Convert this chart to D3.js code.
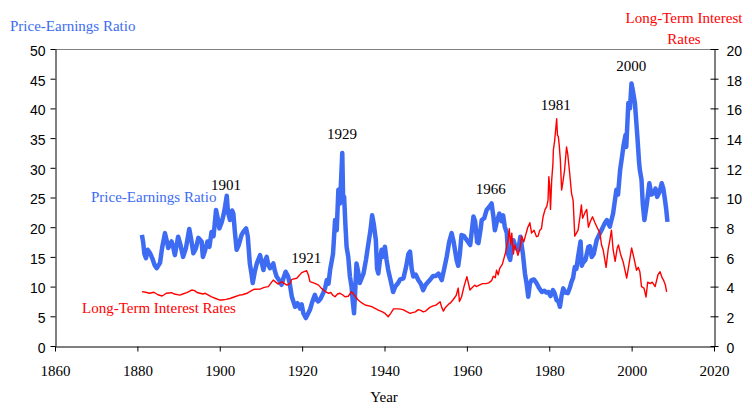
<!DOCTYPE html>
<html><head><meta charset="utf-8">
<script src="https://cdn.jsdelivr.net/npm/d3@7"></script>
<style>
html,body{margin:0;padding:0;background:#fff;}
svg{display:block;}
</style></head>
<body>
<svg id="chart" width="752" height="408"></svg>
<script>
// ---- DATA ----
const xTicks = [1860,1880,1900,1920,1940,1960,1980,2000,2020];
const leftTicks = [0,5,10,15,20,25,30,35,40,45,50];
const rightTicks = [0,2,4,6,8,10,12,14,16,18,20];

const peYears = [1881.1,1881.4,1881.7,1882.1,1882.5,1883.1,1883.6,1884.2,1884.7,1885.5,1886.0,1886.7,1887.1,1887.5,1888.3,1888.7,1889.1,1889.9,1890.4,1891.1,1891.8,1892.6,1893.0,1893.6,1894.2,1894.8,1895.6,1895.9,1896.4,1897.0,1897.5,1898.0,1898.5,1899.1,1899.5,1899.9,1900.5,1900.9,1901.3,1901.7,1902.0,1902.5,1903.0,1903.3,1903.7,1904.1,1904.6,1905.3,1905.8,1906.4,1906.8,1907.3,1907.7,1908.0,1908.5,1909.0,1909.8,1910.2,1910.6,1911.0,1911.4,1911.8,1912.2,1913.0,1913.4,1913.8,1914.5,1915.0,1915.5,1916.0,1916.6,1917.0,1917.5,1918.3,1918.9,1919.5,1919.9,1920.3,1920.9,1921.4,1921.9,1922.5,1923.1,1923.5,1923.9,1924.5,1925.1,1925.6,1926.0,1926.4,1926.8,1927.5,1928.0,1928.4,1928.8,1929.2,1929.5,1929.75,1929.95,1930.2,1930.5,1930.8,1931.2,1931.6,1932.0,1932.3,1932.6,1932.9,1933.2,1933.6,1934.0,1934.5,1934.9,1935.5,1936.1,1936.6,1937.0,1937.4,1937.9,1938.2,1938.5,1938.9,1939.3,1939.6,1940.1,1940.5,1940.9,1941.5,1942.1,1942.6,1943.3,1943.8,1944.6,1945.3,1945.8,1946.2,1946.6,1947.0,1947.6,1948.2,1948.8,1949.4,1950.0,1951.0,1951.8,1952.5,1953.1,1953.9,1954.5,1955.1,1955.7,1956.3,1956.8,1957.5,1957.9,1958.3,1958.7,1959.3,1960.0,1960.8,1961.6,1962.0,1962.5,1962.8,1963.3,1963.6,1964.2,1964.8,1965.5,1966.0,1966.4,1966.8,1967.3,1967.9,1968.4,1968.8,1969.2,1969.7,1970.0,1970.5,1970.9,1971.3,1971.9,1972.5,1973.0,1973.6,1974.1,1974.5,1974.9,1975.3,1975.7,1976.3,1976.9,1977.5,1978.2,1978.8,1979.3,1979.8,1980.3,1980.9,1981.3,1981.8,1982.2,1982.6,1983.0,1983.4,1983.9,1984.5,1985.0,1985.4,1985.8,1986.2,1986.6,1987.0,1987.6,1987.9,1988.1,1988.8,1989.5,1989.9,1990.3,1990.8,1991.5,1992.3,1992.9,1993.5,1994.0,1994.7,1995.5,1996.3,1996.7,1997.2,1997.7,1998.0,1998.5,1998.7,1999.0,1999.2,1999.6,1999.97,2000.3,2000.8,2001.4,2001.8,2002.0,2002.4,2002.7,2003.1,2003.7,2004.3,2004.8,2005.3,2005.8,2006.2,2006.8,2007.3,2007.7,2008.1,2008.4,2008.7];
const peValues = [18.7,17.5,15.5,14.8,16.2,15.6,14.8,13.6,13.1,14.0,16.5,19.0,17.8,16.5,17.6,16.6,15.3,18.4,17.2,15.0,16.5,19.7,18.2,15.6,16.4,18.2,17.6,15.0,16.0,17.6,16.7,19.2,18.5,22.9,21.5,19.8,20.9,22.0,23.5,25.3,22.5,21.2,22.8,22.3,19.0,16.2,17.0,18.7,19.3,19.8,18.5,13.9,12.2,10.6,12.5,13.9,15.3,14.0,12.8,14.3,15.0,13.6,13.1,13.9,12.6,11.7,11.0,10.3,11.5,12.5,11.7,10.5,8.3,6.6,7.2,6.3,7.0,5.5,4.7,5.4,6.1,7.5,8.6,7.8,7.5,8.0,8.9,9.8,11.1,10.5,12.8,15.5,21.2,19.5,26.3,24.0,28.5,32.5,25.0,25.1,20.5,16.7,15.0,11.7,10.0,7.5,5.5,9.5,13.9,12.5,10.6,11.5,12.2,14.5,17.3,19.5,22.0,20.5,17.8,13.0,12.2,14.5,16.2,15.0,16.7,14.5,12.8,11.0,9.1,10.0,10.6,11.2,11.4,13.5,15.5,15.9,13.0,11.7,12.0,11.1,10.5,9.4,10.3,11.1,11.8,11.8,12.2,11.1,13.0,15.0,17.5,19.0,17.5,14.5,13.5,15.5,18.7,18.5,17.8,17.0,21.8,21.0,17.5,17.3,19.5,21.2,21.5,22.9,23.5,24.0,22.0,19.5,21.0,22.3,21.0,22.0,20.1,19.0,15.5,14.5,16.5,17.8,16.5,16.2,18.4,15.5,12.2,10.5,8.3,10.5,11.1,11.2,10.6,9.8,9.1,9.3,9.0,9.1,8.4,9.4,8.9,7.7,7.5,6.6,8.5,9.7,9.0,8.9,9.8,10.8,11.5,13.3,13.0,15.0,17.6,13.5,13.9,14.5,16.7,16.8,15.0,15.5,17.8,19.0,19.8,20.7,21.2,20.1,22.3,26.3,25.5,29.6,32.0,33.6,35.5,33.5,38.0,40.9,40.0,44.2,43.0,40.9,35.2,31.0,29.6,28.0,24.0,21.2,24.0,27.4,25.5,25.7,26.5,25.1,26.0,27.4,26.5,24.6,23.0,20.9];

const rateYears = [1881.1,1882,1883,1884,1885,1886.0,1886.5,1887,1888.3,1889,1890.3,1891,1892,1893.2,1893.9,1894.5,1895.2,1895.9,1896.5,1897.9,1899,1899.9,1900.5,1901.5,1902.5,1903.5,1904.8,1905.5,1906.6,1907.5,1908.3,1909.9,1910.8,1911.8,1912.6,1913.0,1913.6,1914.2,1915.0,1916.3,1917.0,1917.5,1918.7,1919.9,1921.1,1921.5,1921.9,1923.1,1924.0,1924.7,1925.5,1926.4,1927.0,1927.5,1928.0,1928.6,1929.2,1929.8,1930.4,1931.2,1932.0,1932.6,1933.6,1934.5,1935.3,1936.9,1938.5,1939.5,1940.1,1940.9,1941.5,1942.2,1943.5,1944.5,1945.5,1946.2,1946.8,1947.5,1948.2,1948.8,1949.4,1950.0,1951.0,1951.8,1952.5,1953.5,1953.9,1954.3,1954.8,1955.5,1956.0,1956.6,1957.4,1957.9,1958.2,1958.7,1959.3,1960.0,1960.4,1960.75,1961.2,1961.9,1962.3,1963.0,1963.8,1964.6,1965.3,1966.0,1966.4,1966.9,1967.2,1967.6,1968.0,1968.6,1969.0,1969.4,1969.8,1970.0,1970.3,1970.6,1970.9,1971.3,1971.6,1971.9,1972.4,1972.9,1973.3,1973.8,1974.3,1974.8,1975.3,1975.7,1976.3,1976.9,1977.3,1977.7,1978.1,1978.5,1979.0,1979.4,1979.7,1979.9,1980.1,1980.3,1980.6,1980.9,1981.0,1981.3,1981.6,1981.8,1982.0,1982.2,1982.4,1982.7,1983.0,1983.3,1983.7,1984.2,1984.5,1984.9,1985.4,1985.8,1986.2,1986.6,1987.0,1987.5,1987.8,1988.1,1988.7,1989.1,1989.5,1990.0,1990.5,1991.1,1991.6,1992.3,1992.7,1993.1,1993.8,1994.3,1994.7,1995.1,1995.5,1996.0,1996.5,1996.8,1997.3,1998.0,1998.8,1999.3,2000.0,2000.5,2001.2,2001.6,2002.0,2002.4,2003.0,2003.5,2003.9,2004.5,2005.0,2005.7,2006.4,2006.9,2007.4,2007.8,2008.2,2008.5];
const rateValues = [3.66,3.62,3.55,3.62,3.45,3.37,3.45,3.55,3.59,3.5,3.43,3.5,3.6,3.77,3.73,3.6,3.55,3.5,3.55,3.32,3.2,3.1,3.1,3.14,3.2,3.3,3.43,3.45,3.55,3.7,3.82,3.84,3.95,4.0,4.3,4.44,4.3,4.17,4.33,4.1,4.2,4.49,4.56,4.94,5.07,4.8,4.33,4.22,4.1,3.88,3.7,3.55,3.6,3.4,3.32,3.5,3.55,3.45,3.32,3.35,3.66,3.45,3.1,2.9,2.76,2.65,2.42,2.3,2.2,1.97,2.2,2.5,2.5,2.45,2.3,2.2,2.25,2.3,2.45,2.4,2.3,2.35,2.6,2.7,2.75,2.98,2.6,2.35,2.6,2.8,2.9,3.1,3.4,3.9,3.0,3.3,4.0,4.67,4.2,3.77,3.9,4.1,4.0,4.1,4.2,4.2,4.25,4.4,4.7,4.6,5.1,4.8,5.25,5.5,5.9,6.3,6.9,7.1,7.9,6.8,7.6,6.2,6.8,6.6,6.1,6.6,7.4,7.0,7.5,8.0,8.3,7.6,7.8,7.36,7.4,7.8,7.9,8.7,9.2,9.4,9.8,11.4,10.8,9.2,11.2,12.3,13.2,13.8,14.7,15.3,14.2,14.1,13.6,12.5,10.5,11.0,11.8,13.4,12.9,11.8,10.3,9.8,7.4,7.6,7.8,8.8,9.5,8.6,9.0,9.2,8.0,8.4,8.7,8.3,8.0,7.6,6.8,6.46,5.3,6.5,7.1,7.8,6.5,5.7,6.6,6.8,6.2,5.6,4.57,5.4,6.6,6.0,5.1,5.3,5.0,4.0,3.9,3.3,4.3,4.2,4.3,4.0,4.8,5.0,4.6,4.4,4.1,3.65];

const peakYears = ["1901","1921","1929","1966","1981","2000"];
const peakX = [1901.5,1921.0,1929.7,1965.8,1981.6,1999.9];
const peakY = [26.3,14.0,34.9,25.6,39.7,46.3];

// ---- LAYOUT ----
const svg = d3.select("#chart");
const BLUE = "#3d6cf2", RED = "#ff0000";
const serif = "'Liberation Serif','Times New Roman',serif";
const sans = "'Liberation Sans',Arial,sans-serif";

const x = d3.scaleLinear().domain([1860,2020]).range([55,714]);
const yL = d3.scaleLinear().domain([0,50]).range([346,49]);
const yR = d3.scaleLinear().domain([0,20]).range([346,49]);

// top border (gray)
svg.append("line").attr("x1",55).attr("x2",714).attr("y1",49.5).attr("y2",49.5)
  .attr("stroke","#808080").attr("stroke-width",1);

// left axis
const gL = svg.append("g").attr("transform","translate(55.5,0)")
  .call(d3.axisLeft(yL).tickValues(leftTicks).tickSize(5).tickSizeOuter(0));
gL.select(".domain").attr("stroke","#000");
gL.selectAll(".tick line").attr("stroke","#000");
gL.selectAll("text").attr("font-family",sans).attr("font-size","14px").attr("fill","#000")
  .attr("x",-10).attr("dy","0.45em");

// right axis (ticks cross)
const gR = svg.append("g").attr("transform","translate(714.5,0)")
  .call(d3.axisRight(yR).tickValues(rightTicks).tickSize(4).tickSizeOuter(0));
gR.select(".domain").attr("stroke","#000");
gR.selectAll(".tick line").attr("stroke","#000").attr("x1",-4).attr("x2",4);
gR.selectAll("text").attr("font-family",sans).attr("font-size","14px").attr("fill","#000")
  .attr("x",12).attr("dy","0.45em");

// bottom axis
const gB = svg.append("g").attr("transform","translate(0,346.5)")
  .call(d3.axisBottom(x).tickValues(xTicks).tickFormat(d3.format("d")).tickSize(5).tickSizeOuter(0));
gB.select(".domain").attr("stroke","#000");
gB.selectAll(".tick line").attr("stroke","#000");
gB.selectAll("text").attr("font-family",serif).attr("font-size","15px").attr("fill","#000")
  .attr("y",0).attr("dy",0).attr("transform","translate(0,29)");

// lines
const peData = peYears.map((yr,i)=>[yr,peValues[i]]);
const rateData = rateYears.map((yr,i)=>[yr,rateValues[i]]);

svg.append("path").datum(peData)
  .attr("fill","none").attr("stroke",BLUE).attr("stroke-width",4.5).attr("stroke-linejoin","round")
  .attr("d",d3.line().x(d=>x(d[0])).y(d=>yL(d[1])));

svg.append("path").datum(rateData)
  .attr("fill","none").attr("stroke",RED).attr("stroke-width",1.4).attr("stroke-linejoin","round")
  .attr("d",d3.line().x(d=>x(d[0])).y(d=>yR(d[1])));

// peak annotations
svg.selectAll("text.peak").data(peakYears).enter().append("text")
  .attr("class","peak")
  .attr("x",(d,i)=>x(peakX[i])).attr("y",(d,i)=>yL(peakY[i]))
  .attr("text-anchor","middle").attr("font-family",serif).attr("font-size","15px").attr("fill","#000")
  .text(d=>d);

// titles & labels
svg.append("text").attr("x",10).attr("y",31).attr("font-family",serif).attr("font-size","15px")
  .attr("fill",BLUE).text("Price-Earnings Ratio");
svg.append("text").attr("x",684).attr("y",23).attr("text-anchor","middle").attr("font-family",serif)
  .attr("font-size","15px").attr("fill",RED).text("Long-Term Interest");
svg.append("text").attr("x",684).attr("y",44).attr("text-anchor","middle").attr("font-family",serif)
  .attr("font-size","15px").attr("fill",RED).text("Rates");

svg.append("text").attr("x",91).attr("y",202).attr("font-family",serif).attr("font-size","15px")
  .attr("fill",BLUE).text("Price-Earnings Ratio");
svg.append("text").attr("x",82).attr("y",313).attr("font-family",serif).attr("font-size","15px")
  .attr("fill",RED).text("Long-Term Interest Rates");

svg.append("text").attr("x",384).attr("y",402).attr("text-anchor","middle").attr("font-family",serif)
  .attr("font-size","15px").attr("fill","#000").text("Year");
</script>
</body></html>
